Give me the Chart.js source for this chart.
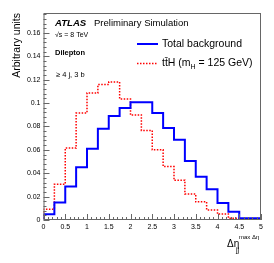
<!DOCTYPE html>
<html>
<head>
<meta charset="utf-8">
<script src="https://cdn.jsdelivr.net/npm/chart.js@4"></script>
<style>
  body { margin: 0; background: #fff; }
  canvas { display: block; }
</style>
</head>
<body>
<canvas id="chart" width="274" height="263"></canvas>
<script>
// bin edges of the histogram (delta eta)
const binEdges = [0, 0.25, 0.5, 0.75, 1, 1.25, 1.5, 1.75, 2, 2.25, 2.5, 2.75, 3, 3.25, 3.5, 3.75, 4, 4.25, 4.5, 4.75, 5];
// bin contents
const background = [0.0005, 0.005, 0.015, 0.0286, 0.045, 0.061, 0.078, 0.089, 0.0958, 0.1006,
                    0.1006, 0.0915, 0.0786, 0.0686, 0.0505, 0.037, 0.0262, 0.0146, 0.0071, 0.0016];
const ttH = [0.001, 0.0092, 0.0306, 0.0615, 0.0915, 0.1086, 0.1158, 0.118, 0.1035, 0.0898,
             0.0766, 0.060, 0.0457, 0.034, 0.0223, 0.0155, 0.0086, 0.0051, 0.0015, 0.0005];
const xTicks = [0, 0.5, 1, 1.5, 2, 2.5, 3, 3.5, 4, 4.5, 5];
const yTicks = [0, 0.02, 0.04, 0.06, 0.08, 0.1, 0.12, 0.14, 0.16];

const FONT = "'Liberation Sans', Arial, Helvetica, sans-serif";

// left edge of each bin + closing point at the last edge
function histPoints(values) {
  const pts = values.map((v, i) => ({ x: binEdges[i], y: v }));
  pts.push({ x: binEdges[binEdges.length - 1], y: values[values.length - 1] });
  return pts;
}

// ROOT/ATLAS style frame, inward ticks and texts
const atlasDecor = {
  id: "atlasDecor",
  afterDraw(chart) {
    const ctx = chart.ctx;
    const { left, right, top, bottom } = chart.chartArea;
    const xs = chart.scales.x, ys = chart.scales.y;
    ctx.save();

    // frame
    ctx.strokeStyle = "#666";
    ctx.lineWidth = 1;
    ctx.strokeRect(left + 0.5, top + 0.5, right - left - 1, bottom - top - 1);

    // ticks
    ctx.beginPath();
    for (let i = 0; i <= 50; i++) {
      const px = Math.round(xs.getPixelForValue(i * 0.1)) + 0.5;
      const len = i % 5 === 0 ? 6 : 3;
      ctx.moveTo(px, bottom);
      ctx.lineTo(px, bottom - len);
    }
    for (let i = 0; i * 0.004 <= ys.max + 1e-9; i++) {
      const py = Math.round(ys.getPixelForValue(i * 0.004)) + 0.5;
      const len = i % 5 === 0 ? 6 : 3;
      ctx.moveTo(left, py);
      ctx.lineTo(left + len, py);
    }
    ctx.stroke();

    ctx.fillStyle = "#000";
    ctx.textBaseline = "middle";
    ctx.textAlign = "left";

    // y axis title
    ctx.save();
    ctx.translate(17, top);
    ctx.rotate(-Math.PI / 2);
    ctx.textAlign = "right";
    ctx.font = "10.5px " + FONT;
    ctx.fillText("Arbitrary units", 0, 0);
    ctx.restore();

    // x axis title
    ctx.font = "10px " + FONT;
    ctx.fillText("\u0394\u03b7", 227, 244);
    ctx.font = "7px " + FONT;
    ctx.fillText("jj", 236, 250);
    ctx.font = "6px " + FONT;
    ctx.fillText("max \u0394\u03b7", 239, 237);

    // ATLAS label
    ctx.font = "bold italic 9.6px " + FONT;
    ctx.fillText("ATLAS", 55, 23.5);
    ctx.font = "9.5px " + FONT;
    ctx.fillText("Preliminary Simulation", 94, 23.5);
    ctx.font = "7px " + FONT;
    ctx.fillText("\u221as = 8 TeV", 55, 35);
    ctx.font = "bold 7.5px " + FONT;
    ctx.fillText("Dilepton", 55, 52.5);
    ctx.font = "7.5px " + FONT;
    ctx.fillText("\u2265 4 j, 3 b", 56, 75);

    // legend
    ctx.lineWidth = 2;
    ctx.strokeStyle = "#0000ff";
    ctx.beginPath();
    ctx.moveTo(137, 44);
    ctx.lineTo(158, 44);
    ctx.stroke();
    ctx.lineWidth = 1.5;
    ctx.strokeStyle = "#ff0000";
    ctx.setLineDash([1.5, 1.5]);
    ctx.beginPath();
    ctx.moveTo(137, 63.5);
    ctx.lineTo(158, 63.5);
    ctx.stroke();
    ctx.setLineDash([]);

    ctx.font = "10.5px " + FONT;
    ctx.fillText("Total background", 162, 44);
    let x = 162;
    const y = 63.5;
    const seg = "t\u0074\u0304H (m";
    ctx.fillText(seg, x, y);
    x += ctx.measureText(seg).width;
    ctx.font = "7px " + FONT;
    ctx.fillText("H", x, y + 4);
    x += ctx.measureText("H").width;
    ctx.font = "10.5px " + FONT;
    ctx.fillText(" = 125 GeV)", x, y);

    ctx.restore();
  }
};

new Chart(document.getElementById("chart").getContext("2d"), {
  type: "line",
  data: {
    datasets: [
      {
        label: "Total background",
        data: histPoints(background),
        borderColor: "#0000ff",
        borderWidth: 2,
        stepped: "after",
        pointRadius: 0,
        fill: false
      },
      {
        label: "ttH (mH = 125 GeV)",
        data: histPoints(ttH),
        borderColor: "#ff0000",
        borderWidth: 1.5,
        borderDash: [1.5, 1.5],
        stepped: "after",
        pointRadius: 0,
        fill: false
      }
    ]
  },
  options: {
    responsive: false,
    animation: false,
    devicePixelRatio: 1,
    layout: { padding: { left: 0, top: 13, right: 13, bottom: 0 } },
    plugins: {
      legend: { display: false },
      tooltip: { enabled: false }
    },
    scales: {
      x: {
        type: "linear",
        min: 0,
        max: 5,
        grid: { display: false, drawTicks: false },
        border: { display: false },
        afterBuildTicks: (s) => { s.ticks = xTicks.map((v) => ({ value: v })); },
        afterFit: (s) => { s.height = 43; },
        ticks: {
          padding: 3,
          maxRotation: 0,
          color: "#000",
          font: { size: 7, family: FONT },
          callback: (v) => String(v)
        }
      },
      y: {
        min: 0,
        max: 0.177,
        grid: { display: false, drawTicks: false },
        border: { display: false },
        afterBuildTicks: (s) => { s.ticks = yTicks.map((v) => ({ value: v })); },
        afterFit: (s) => { s.width = 43.5; },
        ticks: {
          padding: 3,
          color: "#000",
          font: { size: 7, family: FONT },
          callback: (v) => String(Math.round(v * 100) / 100)
        }
      }
    }
  },
  plugins: [atlasDecor]
});
</script>
</body>
</html>
